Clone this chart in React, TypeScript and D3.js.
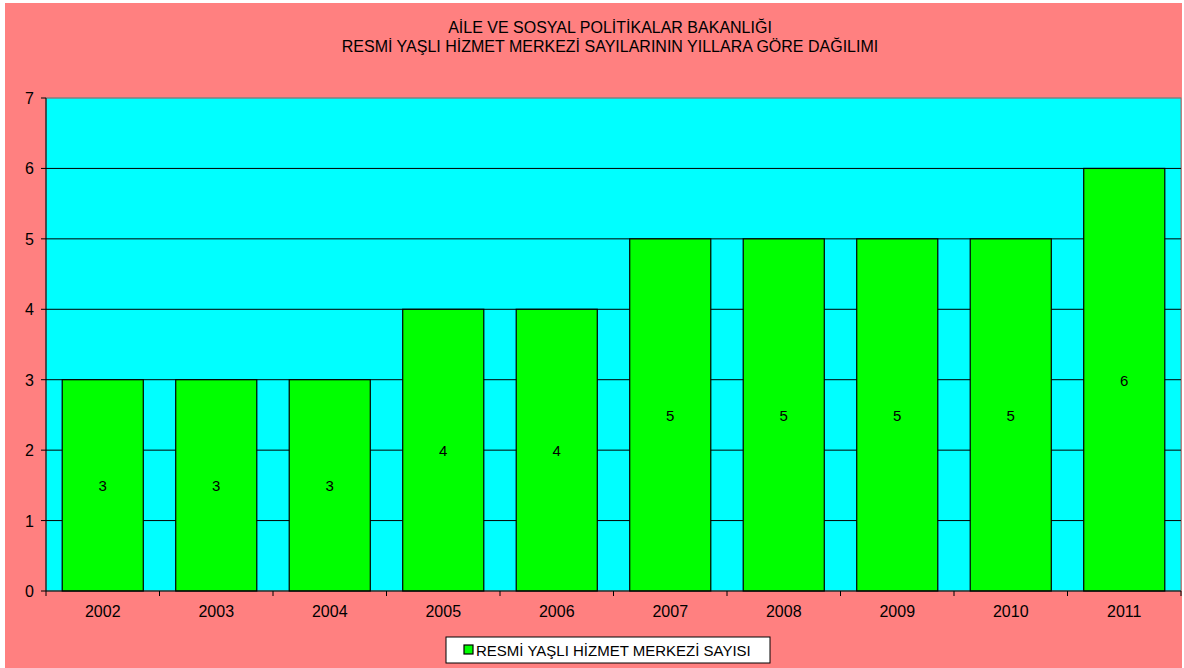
import React from "react";
import * as d3 from "d3";

const years = ["2002", "2003", "2004", "2005", "2006", "2007", "2008", "2009", "2010", "2011"];
const counts = [3, 3, 3, 4, 4, 5, 5, 5, 5, 6];
const yTicks = [0, 1, 2, 3, 4, 5, 6, 7];
const titleLines = [
  "AİLE VE SOSYAL POLİTİKALAR BAKANLIĞI",
  "RESMİ YAŞLI HİZMET MERKEZİ SAYILARININ YILLARA GÖRE DAĞILIMI",
];
const seriesName = "RESMİ YAŞLI HİZMET MERKEZİ SAYISI";

export default function App() {
  const W = 1184, H = 668;
  const left = 46, right = 1181, top = 98, bottom = 591;
  const x = d3.scaleBand<string>().domain(years).range([left, right]).paddingInner(0.2857).paddingOuter(0.14285);
  const xc = d3.scaleBand<string>().domain(years).range([left, right]).padding(0);
  const y = d3.scaleLinear().domain([0, 7]).range([bottom, top]);
  const font = "Liberation Sans, Arial, sans-serif";
  return (
    <div style={{ position: "absolute", left: 0, top: 0 }}>
      <svg width={W} height={H} style={{ display: "block" }}>
        <rect x={0} y={0} width={W} height={H} fill="#ffffff" />
        <rect x={5} y={3} width={1177} height={665} fill="#FF8080" />
        <rect x={left} y={top} width={right - left} height={bottom - top} fill="#00FFFF" stroke="#808080" strokeWidth={1} />
        {yTicks.filter((t) => t > 0).map((t) => (
          <line key={"g" + t} x1={left} x2={right} y1={y(t)} y2={y(t)} stroke={t === 7 ? "#808080" : "#000"} strokeWidth={1} />
        ))}
        {years.map((yr, i) => (
          <g key={yr}>
            <rect x={x(yr)} y={y(counts[i])} width={x.bandwidth()} height={y(0) - y(counts[i])} fill="#00FF00" stroke="#000" strokeWidth={1.2} />
            <text x={x(yr)! + x.bandwidth() / 2} y={(y(counts[i]) + y(0)) / 2 + 6} textAnchor="middle" fontSize={15} fontFamily={font} fill="#000">
              {counts[i]}
            </text>
            <text x={xc(yr)! + xc.bandwidth() / 2} y={617} textAnchor="middle" fontSize={16} fontFamily={font} fill="#000">
              {yr}
            </text>
          </g>
        ))}
        {years.map((yr) => (
          <line key={"xt" + yr} x1={xc(yr)} x2={xc(yr)} y1={bottom} y2={bottom + 5} stroke="#000" />
        ))}
        <line x1={right} x2={right} y1={bottom} y2={bottom + 5} stroke="#000" />
        <line x1={left} x2={left} y1={top} y2={bottom} stroke="#000" strokeWidth={1} />
        <line x1={left} x2={right} y1={bottom} y2={bottom} stroke="#000" strokeWidth={1.2} />
        {yTicks.map((t) => (
          <g key={"yt" + t}>
            <line x1={left - 5} x2={left} y1={y(t)} y2={y(t)} stroke="#000" />
            <text x={34} y={y(t) + 6} textAnchor="end" fontSize={16} fontFamily={font} fill="#000">{t}</text>
          </g>
        ))}
        {titleLines.map((l, i) => (
          <text key={i} x={610} y={33 + i * 19} textAnchor="middle" fontSize={16} fontFamily={font} fill="#000">{l}</text>
        ))}
        <rect x={446} y={637} width={324} height={26} fill="#fff" stroke="#000" strokeWidth={1} />
        <rect x={464} y={645} width={9} height={9} fill="#00FF00" stroke="#000" strokeWidth={1.2} />
        <text x={476} y={656} fontSize={15} fontFamily={font} fill="#000">{seriesName}</text>
      </svg>
    </div>
  );
}
